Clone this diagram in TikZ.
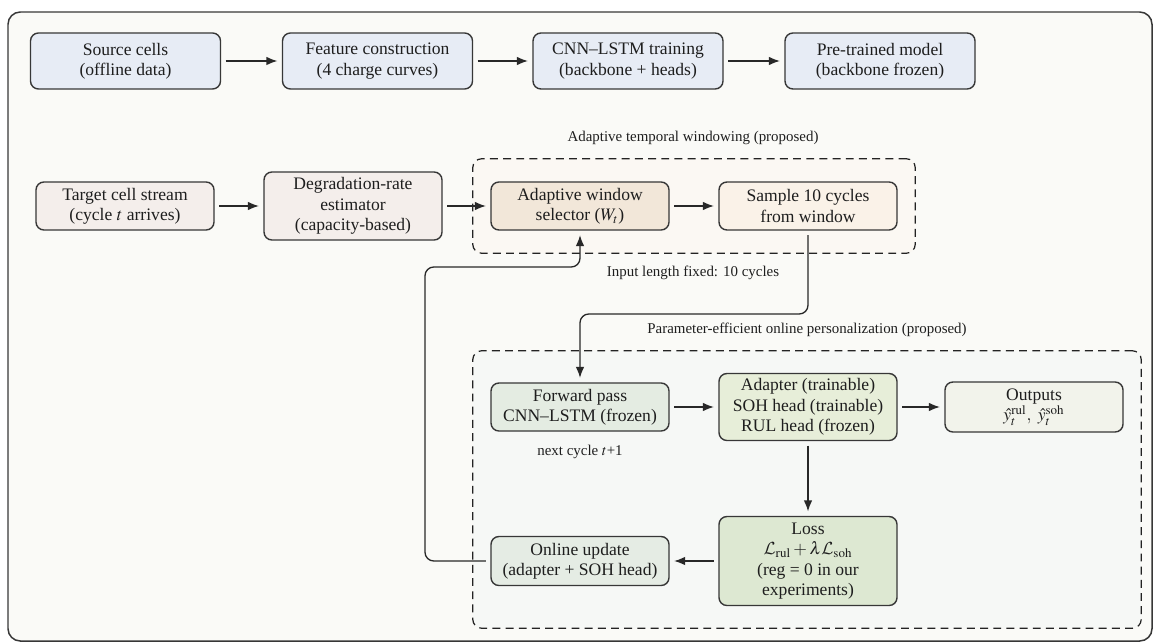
\documentclass[tikz,border=0pt]{standalone}
\usepackage{amsmath}
\usepackage{mathptmx}
\DeclareMathAlphabet{\mathcal}{OMS}{cmsy}{m}{n}
\usepackage{fontspec}
\setmainfont{Liberation Serif}
\usetikzlibrary{
  arrows.meta,
  positioning,
  fit,
  calc,
  backgrounds
}
\definecolor{framecolor}{RGB}{250, 250, 247}
\definecolor{borderdark}{RGB}{55, 55, 55}
\definecolor{dashcolor}{RGB}{35, 35, 35}
\definecolor{labelcolor}{RGB}{30, 30, 30}
\definecolor{arrowcolor}{RGB}{40, 40, 40}
\definecolor{sourcecolor}{RGB}{231, 236, 245}
\definecolor{targetcolor}{RGB}{244, 238, 235}
\definecolor{selectcolor}{RGB}{242, 231, 217}
\definecolor{samplecolor}{RGB}{250, 242, 232}
\definecolor{windowbg}{RGB}{251, 248, 243}
\definecolor{forwardcolor}{RGB}{228, 236, 226}
\definecolor{adaptercolor}{RGB}{231, 238, 217}
\definecolor{outputcolor}{RGB}{242, 243, 235}
\definecolor{losscolor}{RGB}{221, 232, 210}
\definecolor{updatecolor}{RGB}{229, 236, 228}
\definecolor{personbg}{RGB}{246, 248, 246}
\tikzset{
blocktext/.style={
  align=center,
  font=\fontsize{10}{11.6}\selectfont,
  text=labelcolor
},
block/.style={
  draw=borderdark,
  line width=0.8pt,
  rounded corners=4.5pt,
  minimum width=3.56cm,
  minimum height=0.96cm,
  inner sep=2pt,
  blocktext
},
grouplabel/.style={
  font=\fontsize{8.5}{10}\selectfont,
  text=labelcolor,
  align=center
},
groupbox/.style={
  draw=dashcolor,
  line width=0.7pt,
  dash pattern=on 4.5pt off 3pt,
  rounded corners=5pt
},
arrow/.style={
  -{Latex[length=2.2mm,width=1.7mm]},
  line width=0.75pt,
  draw=arrowcolor,
  shorten <=2.5pt,
  shorten >=2.5pt
}
}

\begin{document}
\begin{tikzpicture}[
    sourceblock/.style={block, fill=sourcecolor, minimum width=3.8cm, minimum height=1.12cm},
    targetblock/.style={block, fill=targetcolor},
    selectblock/.style={block, fill=selectcolor},
    sampleblock/.style={block, fill=samplecolor},
    forwardblock/.style={block, fill=forwardcolor},
    adapterblock/.style={block, fill=adaptercolor},
    outputblock/.style={block, fill=outputcolor},
    lossblock/.style={block, fill=losscolor},
    updateblock/.style={block, fill=updatecolor},
]
\useasboundingbox (0,0) rectangle (23.1,-12.88);

% ============================================================================
% OFFLINE PRE-TRAINING
% ============================================================================
\node[sourceblock] (src) at (2.51, -1.22) {Source cells\\(offline data)};
\node[sourceblock] (feat) at (7.55, -1.22) {Feature construction\\(4 charge curves)};
\node[sourceblock] (train) at (12.56, -1.22) {CNN--LSTM training\\(backbone + heads)};
\node[sourceblock] (pre) at (17.6, -1.22) {Pre-trained model\\(backbone frozen)};

\draw[arrow] (src) -- (feat);
\draw[arrow] (feat) -- (train);
\draw[arrow] (train) -- (pre);

% ============================================================================
% ADAPTIVE TEMPORAL WINDOWING
% ============================================================================
\node[targetblock] (target) at (2.5, -4.12) {Target cell stream\\(cycle $t$ arrives)};
\node[targetblock, minimum height=1.36cm] (degr) at (7.06, -4.12) {Degradation-rate\\estimator\\(capacity-based)};
\node[selectblock] (select) at (11.6, -4.12) {Adaptive window\\selector ($W_t$)};
\node[sampleblock] (sample) at (16.16, -4.12) {Sample 10 cycles\\from window};

\node[grouplabel] (windowtitle) at (13.86, -2.76) {Adaptive temporal windowing (proposed)};
\node[grouplabel] (fixednote) at (13.86, -5.46) {Input length fixed: 10 cycles};

\draw[arrow] (target) -- (degr);
\draw[arrow] (degr) -- (select);
\draw[arrow] (select) -- (sample);

% ============================================================================
% ONLINE PERSONALIZATION
% ============================================================================
\node[forwardblock] (forward) at (11.6, -8.14) {Forward pass\\CNN--LSTM (frozen)};
\node[adapterblock, minimum height=1.34cm] (adapter) at (16.16, -8.14) {Adapter (trainable)\\SOH head (trainable)\\RUL head (frozen)};
\node[outputblock, minimum height=1.0cm] (outputs) at (20.68, -8.14) {Outputs\\$\hat{y}_t^{\mathrm{rul}},\ \hat{y}_t^{\mathrm{soh}}$};
\node[lossblock, minimum height=1.78cm] (loss) at (16.16, -11.22) {Loss\\$\mathcal{L}_{\mathrm{rul}} + \lambda\mathcal{L}_{\mathrm{soh}}$\\(reg = 0 in our\\experiments)};
\node[updateblock, minimum height=0.98cm] (update) at (11.6, -11.22) {Online update\\(adapter + SOH head)};

\node[grouplabel] (persontitle) at (16.14, -6.6) {Parameter-efficient online personalization (proposed)};
\node[grouplabel] (nextnote) at (11.6, -9.04) {next cycle $t$+1};

\coordinate (dropturn) at (11.6, -6.28);
\coordinate (feedturn) at (8.5, -5.34);

\draw[arrow] (forward) -- (adapter);
\draw[arrow] (adapter) -- (outputs);
\draw[arrow] (adapter) -- (loss);
\draw[arrow] (loss) -- (update);
\draw[arrow, rounded corners=5pt] (sample.south) |- (dropturn) -- (forward.north);
\draw[arrow, rounded corners=5pt] (update.west) -| (feedturn) -| (select.south);

% ============================================================================
% FRAME AND GROUP BOXES
% ============================================================================
\begin{scope}[on background layer]
    \draw[draw=borderdark, line width=0.85pt, fill=framecolor, rounded corners=7pt] (0.16, -0.24) rectangle (23.04, -12.82);
    \node[groupbox, fill=windowbg, inner xsep=0.35cm, inner ysep=0.45cm, fit=(select)(sample)] (windowbox) {};
    \node[groupbox, fill=personbg, inner xsep=0.35cm, inner ysep=0.44cm, fit=(forward)(adapter)(outputs)(loss)(update)] (personbox) {};
\end{scope}

\end{tikzpicture}
\end{document}
